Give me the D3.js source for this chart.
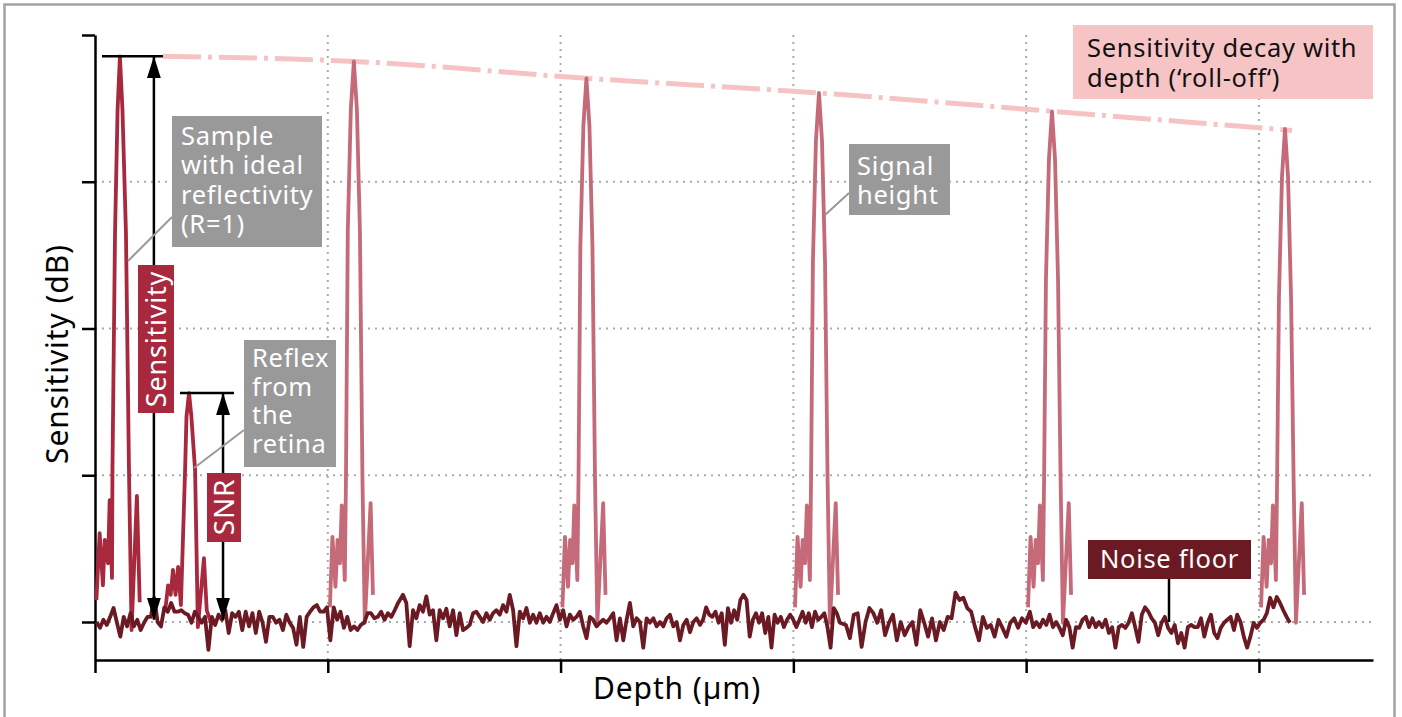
<!DOCTYPE html>
<html>
<head>
<meta charset="utf-8">
<script src="https://cdn.jsdelivr.net/npm/d3@7"></script>
<style>
    body { margin: 0; background: #fff; }
    svg { display: block; font-family: 'Noto Sans', sans-serif; }
</style>
</head>
<body>
<svg id="chart" width="1402" height="717"></svg>
<script>
// Sensitivity roll-off schematic (OCT)

// Axis ticks (no labels in the original)
const depthTicks = [0, 1000, 2000, 3000, 4000, 5000];
const dbTicks = [0, 20, 40, 60, 80];

// Reference reflector, R = 1 (depth in µm, sensitivity in dB)
const peakIdeal = [[6, 3.0], [20, 12.1], [34, 5.0], [42, 11.2], [56, 8.0], [63, 16.6], [73, 6.0], [75, 20.7],
    [86, 53], [97, 69.8], [107, 77.1], [118, 69.8], [133, 53], [146, 20.7], [157, -1.1], [180, 17.2], [192, 2.7]];

// Reflex from the retina
const peakRetina = [[301, 1.4], [314, 5.0], [325, 3.7], [335, 7.1], [346, 3.7], [357, 7.5], [369, 2.3], [387, 20.7],
    [393, 28], [404, 31.2], [414, 28], [430, 20.7], [442, -0.7], [468, 8.7], [480, 1.6], [498, -0.1]];

// Reference reflector moved deeper
const peakDepth1 = [[1009, 2.0], [1020, 11.6], [1033, 4.8], [1042, 11.2], [1052, 8.0], [1060, 15.9], [1073, 5.7], [1078, 19.3],
    [1086, 53.4], [1099, 69.9], [1112, 76.4], [1125, 69.9], [1138, 53.4], [1149, 19.3], [1159, -0.1], [1184, 16.2], [1194, 3.7]];
const peakDepth2 = [[2008, 2.0], [2019, 11.6], [2032, 4.8], [2041, 11.2], [2051, 8.0], [2059, 15.9], [2072, 5.7], [2077, 19.3],
    [2085, 51.1], [2098, 67.6], [2111, 74.1], [2124, 67.6], [2137, 51.1], [2148, 19.3], [2158, -0.1], [2183, 16.2], [2193, 3.7]];
const peakDepth3 = [[3007, 2.0], [3018, 11.6], [3031, 4.8], [3040, 11.2], [3050, 8.0], [3058, 15.9], [3071, 5.7], [3076, 19.3],
    [3084, 49.1], [3097, 65.6], [3110, 72.1], [3123, 65.6], [3136, 49.1], [3147, 19.3], [3157, -0.1], [3182, 16.2], [3192, 3.7]];
const peakDepth4 = [[4008, 2.0], [4019, 11.6], [4032, 4.8], [4041, 11.2], [4051, 8.0], [4059, 15.9], [4072, 5.7], [4077, 19.3],
    [4085, 46.6], [4098, 63.1], [4111, 69.6], [4124, 63.1], [4137, 46.6], [4148, 19.3], [4158, -0.1], [4183, 16.2], [4193, 3.7]];
const peakDepth5 = [[5009, 2.0], [5020, 11.6], [5033, 4.8], [5042, 11.2], [5052, 8.0], [5060, 15.9], [5073, 5.7], [5078, 19.3],
    [5086, 44.2], [5099, 60.7], [5112, 67.2], [5125, 60.7], [5138, 44.2], [5149, 19.3], [5159, -0.1], [5184, 16.2], [5194, 3.7]];

// Roll-off envelope through the peak tops
const rollOff = [[292, 77.1], [1112, 76.4], [2111, 74.1], [3110, 72.1], [4111, 69.6], [5142, 67.0]];

// Noise floor, read in five stretches (start / end depth of each stretch)
const noiseSpans = [[7, 1302], [1323, 2599], [2612, 3200], [3226, 3999], [4016, 5133]];
const noiseA = [0, -0.8, 0.3, -0.4, 0.7, 1.9, -0.1, -2.0, 0.7, -0.6, 1.2, -0.6, 0.3, -1.1, -0.1, 0.7, 0.7, 3.3, 0, -0.6,
    2.0, 1.4, 2.6, 1.4, 1.4, 1.6, 1.2, 1.0, -0.1, 1.4, 0.7, -0.1, 0.7, -3.8, 0.7, -0.4, 1.0, 0.3, 1.6, -1.5,
    1.2, 0.7, 1.4, -1.1, 1.4, -0.6, 1.2, -1.5, 1.4, -0.1, -2.7, 0.7, 0.7, -0.1, 0.3, -1.1, 1.0, -0.1, -0.8, -3.1,
    0.7, -3.4, 0.7, 1.4, 2.0, 2.3, 1.4, 1.4, 2.0, -2.5, 2.0, 0.3, 1.4, -0.8, 0.7, -1.1, -0.6, -1.1, -0.4, -0.1,
    1.2, 1.2, 0.5, 0.7, 1.4, 0.3, 1.2, 0.7, 1.6, 2.6];
const noiseB = [3.7, 2.6, -3.3, 1.6, 0.5, 2.3, 1.4, 3.5, 1.0, 1.6, -2.5, 1.6, 0.5, 1.8, -0.6, 1.6, -1.8, 1.2, -1.1, -0.8,
    -0.4, 1.2, 1.4, 0.7, 0, 1.2, 0.3, 1.2, 1.6, 1.0, 2.3, 1.4, 3.7, 1.6, -3.3, 1.4, 0.5, 1.9, -0.1, 1.0,
    -0.1, 1.2, -0.1, 0.7, 0, 1.2, 2.3, 0.3, 1.6, -0.6, 1.0, 0.3, 0.7, 1.4, -0.6, -2.2, 0.7, 0.3, -0.6, -0.1,
    0.3, -0.1, 0.5, 1.2, -2.5, 0.5, -2.5, 0.3, 2.6, -0.6, 0.5, 0, -3.5, 0.5, -0.1, 0.5, -0.6, 0, -0.6, 0.5,
    1.0, -0.6, 0, -2.5, -0.4, 0.3, -1.4, 0, 0.5, -0.4];
const noiseC = [0.3, 2.0, 1.0, 0.7, 1.4, -0.1, 1.2, -3.1, 1.9, -0.1, 1.6, 0.3, 3.0, 3.7, 3.0, -2.0, 0.3, 1.2, -0.1, 1.2,
    -1.5, 0.7, -3.5, 1.0, -0.1, 0.7, -0.7, 0.3, 1.0, 0.3, -0.7, 0.3, 1.4, -0.1, 1.2, -0.7, 1.4, 0.3, 0.7, 1.2,
    -0.7, -3.5, 1.9, 1.2, -0.1];
const noiseD = [-0.4, -2.2, 1.0, 1.2, -3.4, 0, 1.9, 1.2, -0.1, 1.6, -1.8, -0.1, 1.0, -2.5, 0, -1.8, -0.7, 0, -3.1, 1.6,
    -0.1, -2.0, 0.5, -2.5, 0, -1.1, 0.7, 0.5, 4.0, 3.0, 3.3, 1.9, 1.4, -0.7, -2.5, 0.7, -0.8, -0.4, -2.0, 0.3,
    -0.8, -2.0, -0.1, 0.5, -0.8, 0.5, -0.1];
const noiseE = [1.4, -0.7, 0, -0.7, 0.3, -0.4, 1.0, -0.7, 0, -0.8, -1.8, 0.3, -0.7, -3.5, -0.7, -0.8, 0.3, 0.7, -0.7, 0.5,
    -0.7, 0, -0.7, 0.3, -1.5, -0.7, -3.5, -0.7, -0.4, -0.8, -0.1, 1.2, -0.7, -2.7, 1.0, 2.0, 1.4, 0.5, -0.1, -1.8,
    -0.1, 0.7, -0.8, -1.5, -0.4, -2.9, -1.5, -3.5, -0.7, -0.4, -0.7, -0.7, 0.5, -2.0, -0.1, 1.0, -1.5, -2.2, -0.8, -0.1,
    0.3, 0.7, -1.1, 1.0, 0, -2.0, -3.5, -2.0, -0.1, -0.8, -0.1, 0.3, 1.2, 3.3, 2.0, 3.4, 2.6, 1.6, 0.7, -0.1];

const colors = {
    ideal: '#a8283e',
    deep: '#c46a79',
    noise: '#6b1a24',
    rollOff: '#f6c3c5',
    grid: '#aaaaaa',
    callout: '#999999'
};

const svg = d3.select('#chart');

// Outer frame
svg.append('rect')
    .attr('x', 4.5).attr('y', 4.5)
    .attr('width', 1390).attr('height', 740)
    .attr('fill', 'none')
    .attr('stroke', '#a3a3a3')
    .attr('stroke-width', 2.5);

const x = d3.scaleLinear().domain([0, 5490]).range([95, 1373]);
const y = d3.scaleLinear().domain([-5.18, 80]).range([660, 35]);

// Dotted grid
svg.append('g')
    .selectAll('line')
    .data(dbTicks.slice(0, -1))
    .join('line')
    .attr('x1', x(0)).attr('x2', x(5490))
    .attr('y1', d => y(d)).attr('y2', d => y(d))
    .attr('stroke', colors.grid)
    .attr('stroke-width', 2)
    .attr('stroke-dasharray', '2,5');

svg.append('g')
    .selectAll('line')
    .data(depthTicks.slice(1))
    .join('line')
    .attr('x1', d => x(d)).attr('x2', d => x(d))
    .attr('y1', y(80)).attr('y2', y(-5.18))
    .attr('stroke', colors.grid)
    .attr('stroke-width', 2)
    .attr('stroke-dasharray', '2,5');

// Axes
const yAxis = svg.append('g')
    .attr('transform', `translate(${x(0)},0)`)
    .call(d3.axisLeft(y).tickValues(dbTicks).tickFormat('').tickSize(13).tickSizeOuter(0));
const xAxis = svg.append('g')
    .attr('transform', `translate(0,${y(-5.18)})`)
    .call(d3.axisBottom(x).tickValues(depthTicks).tickFormat('').tickSize(13).tickSizeOuter(0));
[yAxis, xAxis].forEach(g => {
    g.select('.domain').attr('stroke', '#000').attr('stroke-width', 2.5);
    g.selectAll('.tick line').attr('stroke', '#000').attr('stroke-width', 2.5);
});

svg.append('text')
    .attr('transform', `translate(68, 354) rotate(-90)`)
    .attr('text-anchor', 'middle')
    .style('font-size', '30px')
    .style('letter-spacing', '0.9px')
    .text('Sensitivity (dB)');

svg.append('text')
    .attr('x', 677).attr('y', 699)
    .attr('text-anchor', 'middle')
    .style('font-size', '30px')
    .style('letter-spacing', '0.9px')
    .text('Depth (µm)');

const line = d3.line()
    .x(d => x(d[0]))
    .y(d => y(d[1]));

// Roll-off envelope
svg.append('path')
    .datum(rollOff)
    .attr('d', line.curve(d3.curveMonotoneX))
    .attr('fill', 'none')
    .attr('stroke', colors.rollOff)
    .attr('stroke-width', 5)
    .attr('stroke-dasharray', '38,7,4,7');
line.curve(d3.curveLinear);

// Peaks
[peakDepth1, peakDepth2, peakDepth3, peakDepth4, peakDepth5].forEach(p => {
    svg.append('path')
        .datum(p)
        .attr('d', line)
        .attr('fill', 'none')
        .attr('stroke', colors.deep)
        .attr('stroke-width', 3.8)
        .attr('stroke-linejoin', 'round');
});
[peakIdeal, peakRetina].forEach(p => {
    svg.append('path')
        .datum(p)
        .attr('d', line)
        .attr('fill', 'none')
        .attr('stroke', colors.ideal)
        .attr('stroke-width', 3.8)
        .attr('stroke-linejoin', 'round');
});

// Noise floor
const noise = [];
[noiseA, noiseB, noiseC, noiseD, noiseE].forEach((vals, i) => {
    const pos = d3.scaleLinear().domain([0, vals.length - 1]).range(noiseSpans[i]);
    vals.forEach((v, j) => noise.push([pos(j), v]));
});
svg.append('path')
    .datum(noise)
    .attr('d', line)
    .attr('fill', 'none')
    .attr('stroke', colors.noise)
    .attr('stroke-width', 3.8)
    .attr('stroke-linejoin', 'round');

// Arrows
const defs = svg.append('defs');
defs.append('marker')
    .attr('id', 'head')
    .attr('viewBox', '0 0 22 14')
    .attr('refX', 22).attr('refY', 7)
    .attr('markerWidth', 22).attr('markerHeight', 14)
    .attr('markerUnits', 'userSpaceOnUse')
    .attr('orient', 'auto-start-reverse')
    .append('path')
    .attr('d', 'M0,0L22,7L0,14Z')
    .attr('fill', '#000');

function measure(xPos, capFrom, capTo, top) {
    svg.append('line')
        .attr('x1', x(capFrom)).attr('x2', x(capTo))
        .attr('y1', y(top)).attr('y2', y(top))
        .attr('stroke', '#000').attr('stroke-width', 2.5);
    svg.append('line')
        .attr('x1', x(xPos)).attr('x2', x(xPos))
        .attr('y1', y(top)).attr('y2', y(0.3))
        .attr('stroke', '#000').attr('stroke-width', 2.5)
        .attr('marker-start', 'url(#head)')
        .attr('marker-end', 'url(#head)');
}
measure(253, 30, 292, 77.1);
measure(550, 365, 597, 31.2);

// Leader lines
const leaders = [
    [[172, 217], [128, 261]],
    [[244, 430], [194, 468]],
    [[849, 193], [825, 215]]
];
leaders.forEach(l => {
    svg.append('line')
        .attr('x1', l[0][0]).attr('y1', l[0][1])
        .attr('x2', l[1][0]).attr('y2', l[1][1])
        .attr('stroke', colors.callout).attr('stroke-width', 2);
});
svg.append('line')
    .attr('x1', 1169).attr('x2', 1169)
    .attr('y1', 579).attr('y2', y(0))
    .attr('stroke', '#000').attr('stroke-width', 2.5);

// Text boxes
function box(bx, by, w, h, fill, color, lines, tx, ty, lh, anchor) {
    svg.append('rect')
        .attr('x', bx).attr('y', by)
        .attr('width', w).attr('height', h)
        .attr('fill', fill);
    const t = svg.append('text')
        .attr('fill', color)
        .attr('text-anchor', anchor || 'start')
        .style('font-size', '25.5px')
        .style('letter-spacing', '0.7px');
    lines.forEach((s, i) => {
        t.append('tspan').attr('x', tx).attr('y', ty + i * lh).text(s);
    });
}
box(172, 116, 150, 131, colors.callout, '#fff', ['Sample', 'with ideal', 'reflectivity', '(R=1)'], 181, 145, 29.3);
box(244, 340, 92, 127, colors.callout, '#fff', ['Reflex', 'from', 'the', 'retina'], 252, 367, 28.7);
box(849, 144, 101, 71, colors.callout, '#fff', ['Signal', 'height'], 857, 175, 28.5);
box(1073, 25, 300, 74, '#f7c4c6', '#111', ['Sensitivity decay with', 'depth (‘roll-off‘)'], 1087, 57, 30);
box(1088, 540, 163, 39, colors.noise, '#fff', ['Noise floor'], 1169.5, 568, 0, 'middle');

// Rotated red labels
function vlabel(bx, by, w, h, label, cx, cy, size) {
    svg.append('rect')
        .attr('x', bx).attr('y', by)
        .attr('width', w).attr('height', h)
        .attr('fill', colors.ideal);
    svg.append('text')
        .attr('transform', `translate(${cx},${cy}) rotate(-90)`)
        .attr('text-anchor', 'middle')
        .attr('fill', '#fff')
        .style('font-size', size)
        .style('letter-spacing', '0.8px')
        .text(label);
}
vlabel(138, 265, 36, 148, 'Sensitivity', 166, 339, '27px');
vlabel(207, 473, 34, 69, 'SNR', 234, 507, '28px');
</script>
</body>
</html>
